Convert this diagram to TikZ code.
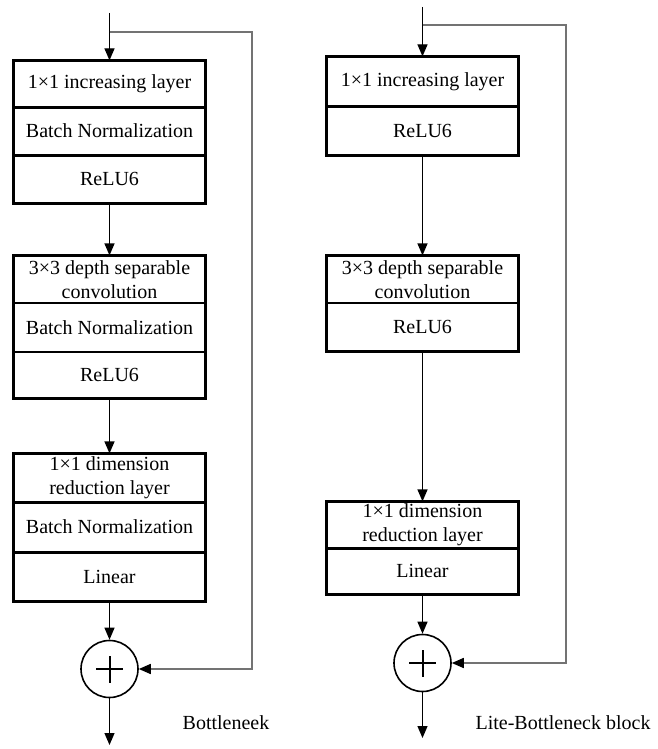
\documentclass[tikz,border=0pt]{standalone}
\usepackage{fontspec}
\setmainfont{Liberation Serif}
\usetikzlibrary{arrows.meta}
\begin{document}
\begin{tikzpicture}[x=1pt,y=-1pt,
  layer/.style={draw, line width=1.2pt, minimum width=191pt, inner sep=0pt,
    align=center, font=\fontsize{20}{24}\selectfont},
  frame/.style={draw, line width=2.4pt},
  thickrule/.style={line width=3pt},
  flow/.style={line width=1.2pt, -{Triangle[length=12pt,width=10pt]}},
  skip/.style={line width=1.6pt, draw=black!55},
  skiparrow/.style={skip, -{Triangle[length=12pt,width=10pt,fill=black,color=black]}},
  adder/.style={circle, draw, line width=1.6pt, minimum size=57pt, inner sep=0pt},
  caption/.style={font=\fontsize{20}{24}\selectfont}]
\useasboundingbox (0,0) rectangle (657,749);

% ---------------- Bottleneck ----------------
\node[layer, minimum height=46pt] (LA1) at (109.5,84)  {1×1 increasing layer};
\node[layer, minimum height=48pt] (LA2) at (109.5,131) {Batch Normalization};
\node[layer, minimum height=48pt] (LA3) at (109.5,179) {ReLU6};
\draw[frame] (LA1.north west) rectangle (LA3.south east);
\draw[thickrule] (LA1.south west) -- (LA1.south east);
\draw[thickrule] (LA2.south west) -- (LA2.south east);

\node[layer, minimum height=47pt] (LB1) at (109.5,279.5) {3×3 depth separable\\convolution};
\node[layer, minimum height=49pt] (LB2) at (109.5,327.5) {Batch Normalization};
\node[layer, minimum height=46pt] (LB3) at (109.5,375)   {ReLU6};
\draw[frame] (LB1.north west) rectangle (LB3.south east);

\node[layer, minimum height=48pt] (LC1) at (109.5,478)   {1×1 dimension\\reduction layer};
\node[layer, minimum height=50pt] (LC2) at (109.5,527)   {Batch Normalization};
\node[layer, minimum height=49pt] (LC3) at (109.5,576.5) {Linear};
\draw[frame] (LC1.north west) rectangle (LC3.south east);
\draw[thickrule] (LC1.south west) -- (LC1.south east);
\draw[thickrule] (LC2.south west) -- (LC2.south east);

\node[adder] (LS) at (109.5,669) {};
\draw[line width=2pt] ([xshift=-13.5pt]LS.center) -- ([xshift=13.5pt]LS.center)
                      ([yshift=-13.5pt]LS.center) -- ([yshift=13.5pt]LS.center);

\coordinate (Lin)   at (109.5,13);
\coordinate (Lfork) at (109.5,32);
\coordinate (Lout)  at (109.5,745);
\coordinate (Lcorner) at (252,32);

\draw[flow] (Lin) -- (LA1.north);
\draw[flow] (LA3.south) -- (LB1.north);
\draw[flow] (LB3.south) -- (LC1.north);
\draw[flow] (LC3.south) -- (LS.north);
\draw[flow] (LS.south) -- (Lout);
\draw[skiparrow] (Lfork) -- (Lcorner) |- (LS.east);

\node[caption] (Lcap) at (226,723) {Bottleneek};

% ---------------- Lite-Bottleneck block ----------------
\node[layer, minimum height=49pt] (RA1) at (422.5,81.5)  {1×1 increasing layer};
\node[layer, minimum height=49pt] (RA2) at (422.5,130.5) {ReLU6};
\draw[frame] (RA1.north west) rectangle (RA2.south east);
\draw[thickrule] (RA1.south west) -- (RA1.south east);

\node[layer, minimum height=47pt] (RB1) at (422.5,279.5) {3×3 depth separable\\convolution};
\node[layer, minimum height=48pt] (RB2) at (422.5,327)   {ReLU6};
\draw[frame] (RB1.north west) rectangle (RB2.south east);

\node[layer, minimum height=46pt] (RC1) at (422.5,525) {1×1 dimension\\reduction layer};
\node[layer, minimum height=46pt] (RC2) at (422.5,571) {Linear};
\draw[frame] (RC1.north west) rectangle (RC2.south east);
\draw[thickrule] (RC1.south west) -- (RC1.south east);

\node[adder] (RS) at (422.5,663) {};
\draw[line width=2pt] ([xshift=-13.5pt]RS.center) -- ([xshift=13.5pt]RS.center)
                      ([yshift=-13.5pt]RS.center) -- ([yshift=13.5pt]RS.center);

\coordinate (Rin)   at (422.5,7);
\coordinate (Rfork) at (422.5,25);
\coordinate (Rout)  at (422.5,738);
\coordinate (Rcorner) at (566,25);

\draw[flow] (Rin) -- (RA1.north);
\draw[flow] (RA2.south) -- (RB1.north);
\draw[flow] (RB2.south) -- (RC1.north);
\draw[flow] (RC2.south) -- (RS.north);
\draw[flow] (RS.south) -- (Rout);
\draw[skiparrow] (Rfork) -- (Rcorner) |- (RS.east);

\node[caption] (Rcap) at (563,723) {Lite-Bottleneck block};
\end{tikzpicture}
\end{document}
